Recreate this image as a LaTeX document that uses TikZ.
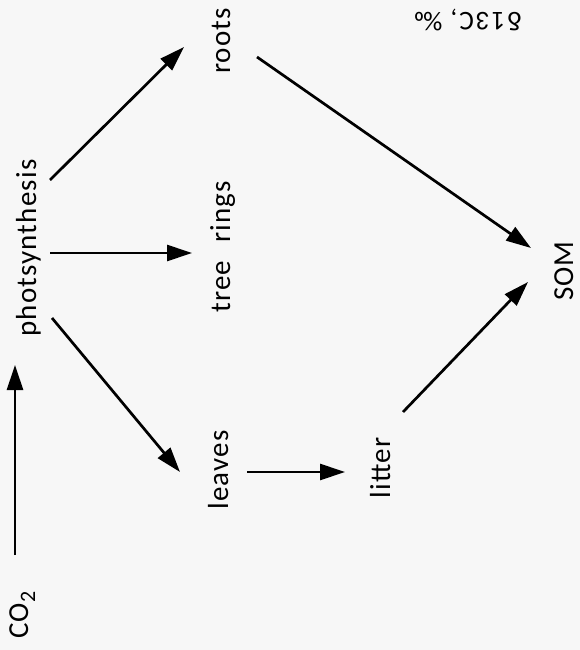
\documentclass[tikz,border=0pt]{standalone}
\usepackage{fontspec}
\setmainfont{Carlito}[LetterSpace=4]
\usetikzlibrary{arrows.meta,calc}
\tikzset{
  lbl/.style={rotate=90, anchor=base, inner sep=0pt, font=\fontsize{29}{34}\selectfont},
  arr/.style={line width=2.7pt, -{Triangle[length=25pt,width=16pt]}}
}
\begin{document}
\begin{tikzpicture}[x=1pt,y=-1pt]
\fill[black!3] (0,0) rectangle (580,650);
\useasboundingbox (0,0) rectangle (580,650);
\node[lbl] (co2) at (28,615) {CO\raisebox{-7pt}{\fontsize{22}{26}\selectfont 2}};
\node[lbl] (photo) at (36,248) {photsynthesis};
\node[lbl] (roots) at (230,41) {roots};
\node[lbl] (tree) at (230,247) {tree\hspace{18pt}rings};
\node[lbl] (leaves) at (228,470) {leaves};
\node[lbl] (litter) at (390,468) {litter};
\node[lbl] (som) at (573,271) {SOM};
\node[rotate=180, anchor=base, inner sep=0pt, font=\fontsize{27}{32}\selectfont] (delta) at (468,13) {\addfontfeatures{LetterSpace=8}δ13C, ‰};
\draw[arr] ($(co2.base)+(-13,-60)$) -- ($(photo.base)+(-21,117)$);
\draw[arr] ($(photo.base)+(14,-68)$) -- ($(roots.base)+(-46,6)$);
\draw[arr] ($(photo.base)+(14,5)$) -- ($(tree.base)+(-38,6)$);
\draw[arr] ($(photo.base)+(16,70)$) -- ($(leaves.base)+(-48,2)$);
\draw[arr] ($(leaves.base)+(19,2)$) -- ($(litter.base)+(-45,4)$);
\draw[arr] ($(litter.base)+(13,-56)$) -- ($(som.base)+(-45,11)$);
\draw[arr] ($(roots.base)+(27,16)$) -- ($(som.base)+(-42,-23)$);
\end{tikzpicture}
\end{document}
